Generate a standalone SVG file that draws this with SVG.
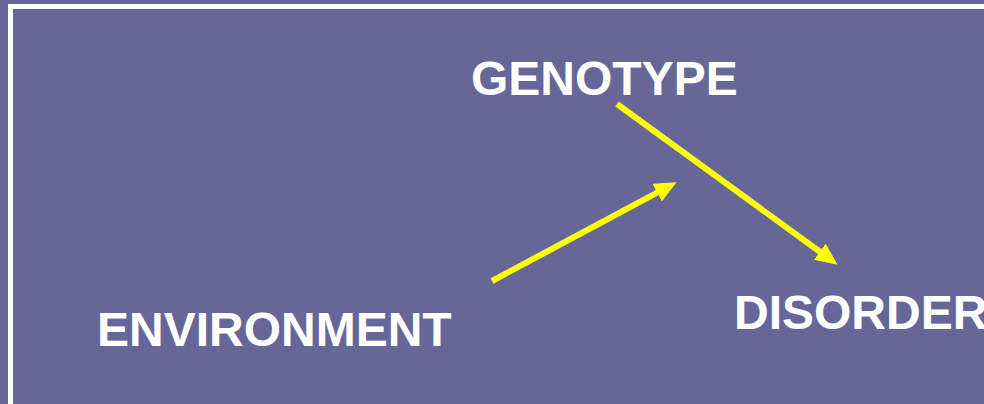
<svg xmlns="http://www.w3.org/2000/svg" width="984" height="404" viewBox="0 0 984 404">
  <style>
    .label { font-family: "Liberation Sans", Arial, sans-serif; font-weight: bold; font-size: 48px; fill: #ffffff; }
    .link { stroke: #ffff00; stroke-width: 6; fill: none; stroke-linecap: butt; }
  </style>
  <defs>
    <marker id="head" viewBox="0 0 22 20" refX="0.5" refY="10" markerWidth="22" markerHeight="20" markerUnits="userSpaceOnUse" orient="auto">
      <path d="M0,0 L22,10 L0,20 Z" fill="#ffff00"/>
    </marker>
  </defs>
  <!-- slide background and frame -->
  <rect x="0" y="0" width="984" height="404" fill="#666699"/>
  <rect x="10.5" y="6.5" width="1000" height="420" fill="none" stroke="#ffffff" stroke-width="5"/>

  <g id="genotype">
    <text class="label" x="471" y="95">GENOTYPE</text>
  </g>
  <g id="environment">
    <text class="label" x="97" y="346">ENVIRONMENT</text>
  </g>
  <g id="disorder">
    <text class="label" x="734" y="329">DISORDER</text>
  </g>

  <g id="connectors">
    <!-- genotype to disorder -->
    <line class="link" x1="617" y1="104" x2="820.2" y2="252" marker-end="url(#head)"/>
    <!-- environment acting on the genotype link -->
    <line class="link" x1="492" y1="281" x2="657.6" y2="192.4" marker-end="url(#head)"/>
  </g>
</svg>
